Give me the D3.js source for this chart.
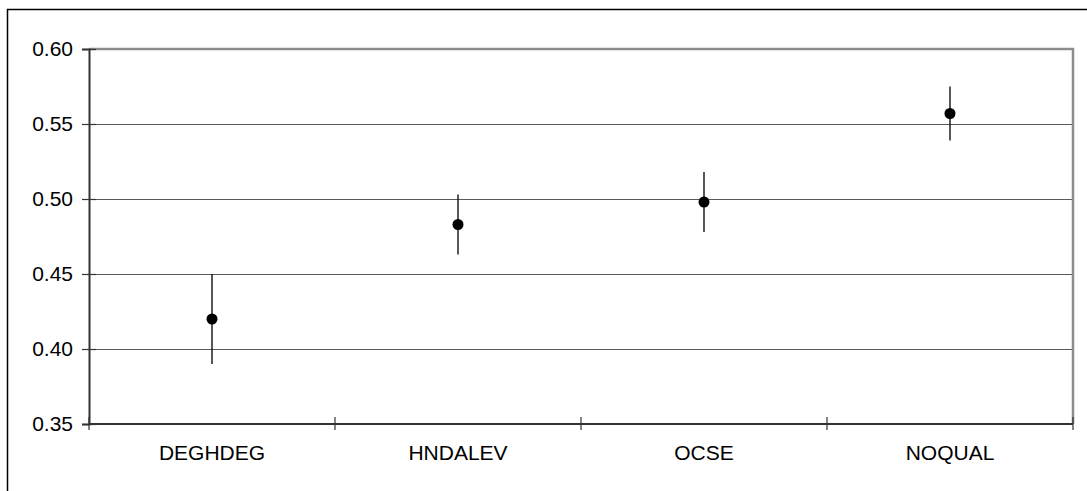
<!DOCTYPE html>
<html>
<head>
<meta charset="utf-8">
<script src="https://cdn.jsdelivr.net/npm/d3@7"></script>
<style>
  html, body { margin: 0; padding: 0; background: #fff; }
  svg { display: block; font-family: "Liberation Sans", Arial, sans-serif; }
</style>
</head>
<body>
<svg width="1087" height="491"></svg>
<script>
const categories = ["DEGHDEG", "HNDALEV", "OCSE", "NOQUAL"]
const means = [0.420, 0.483, 0.498, 0.557]
const errors = [0.030, 0.020, 0.020, 0.018]
const yTicks = [0.35, 0.40, 0.45, 0.50, 0.55, 0.60]

const [WIDTH, HEIGHT] = [1087, 491]
const plot = { left: 89, right: 1073, top: 49, bottom: 424 }
const FONT_SIZE = 21

const svg = d3.select("svg")

// outer frame, runs off the right and bottom edges
svg.append("rect")
  .attr("x", 7.5)
  .attr("y", 9.5)
  .attr("width", WIDTH)
  .attr("height", HEIGHT)
  .attr("fill", "none")
  .attr("stroke", "#000")
  .attr("stroke-width", 1.5)

const x = d3.scaleBand()
  .domain(categories)
  .range([plot.left, plot.right])
  .padding(0)

const y = d3.scaleLinear()
  .domain([0.35, 0.60])
  .range([plot.bottom, plot.top])

// gridlines
svg.append("g")
  .selectAll("line")
  .data(yTicks.slice(1, -1))
  .enter()
  .append("line")
  .attr("x1", plot.left)
  .attr("x2", plot.right)
  .attr("y1", (d) => Math.round(y(d)) + 0.5)
  .attr("y2", (d) => Math.round(y(d)) + 0.5)
  .attr("stroke", "#5a5a5a")
  .attr("stroke-width", 1)

// top and right plot border
svg.append("path")
  .attr("d", `M${plot.left},${plot.top} H${plot.right} V${plot.bottom}`)
  .attr("fill", "none")
  .attr("stroke", "#8c8c8c")
  .attr("stroke-width", 2.5)

// y axis
const yAxis = svg.append("g")
  .attr("transform", `translate(${plot.left},0)`)
  .call(d3.axisLeft(y).tickValues(yTicks).tickFormat(d3.format(".2f")).tickSize(7).tickPadding(9))
yAxis.select(".domain").attr("stroke", "#333").attr("stroke-width", 2)
yAxis.selectAll(".tick line").attr("x2", -7).attr("x1", 7).attr("stroke", "#333").attr("stroke-width", 1.2)
yAxis.selectAll(".tick text")
  .attr("x", -16)
  .attr("font-size", FONT_SIZE)
  .attr("font-family", "Liberation Sans, Arial, sans-serif")
  .attr("fill", "#000")

// x axis: category boundaries as cross ticks
const boundaries = categories.map((c) => x(c)).concat([plot.right])
svg.append("line")
  .attr("x1", plot.left)
  .attr("x2", plot.right)
  .attr("y1", plot.bottom)
  .attr("y2", plot.bottom)
  .attr("stroke", "#333")
  .attr("stroke-width", 2)
svg.append("g")
  .selectAll("line")
  .data(boundaries)
  .enter()
  .append("line")
  .attr("x1", (d) => d)
  .attr("x2", (d) => d)
  .attr("y1", plot.bottom - 7)
  .attr("y2", plot.bottom + 6)
  .attr("stroke", "#333")
  .attr("stroke-width", 1.2)

svg.append("g")
  .selectAll("text")
  .data(categories)
  .enter()
  .append("text")
  .attr("x", (d) => x(d) + x.bandwidth() / 2)
  .attr("y", 453)
  .attr("dy", "0.35em")
  .attr("text-anchor", "middle")
  .attr("font-size", FONT_SIZE)
  .text((d) => d)

// error bars and points
const points = categories.map((c, i) => ({ cat: c, mean: means[i], err: errors[i] }))

svg.append("g")
  .selectAll("line")
  .data(points)
  .enter()
  .append("line")
  .attr("x1", (d) => x(d.cat) + x.bandwidth() / 2)
  .attr("x2", (d) => x(d.cat) + x.bandwidth() / 2)
  .attr("y1", (d) => y(d.mean + d.err))
  .attr("y2", (d) => y(d.mean - d.err))
  .attr("stroke", "#111")
  .attr("stroke-width", 1.4)

svg.append("g")
  .selectAll("circle")
  .data(points)
  .enter()
  .append("circle")
  .attr("cx", (d) => x(d.cat) + x.bandwidth() / 2)
  .attr("cy", (d) => y(d.mean))
  .attr("r", 5.5)
  .attr("fill", "#000")
</script>
</body>
</html>
